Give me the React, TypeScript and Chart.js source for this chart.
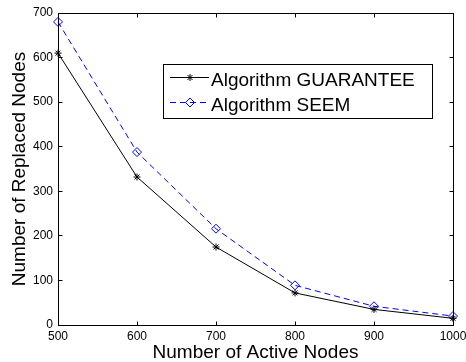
import React, { useEffect, useRef } from 'react';
import { Chart, registerables } from 'chart.js';

Chart.register(...registerables);

const activeNodes = [500, 600, 700, 800, 900, 1000];
const guaranteeValues = [610, 332, 175, 72, 35, 15];
const seemValues = [680, 388, 216, 89, 42, 20];
const seriesLabels = ['Algorithm GUARANTEE', 'Algorithm SEEM'];
const xTitle = 'Number of Active Nodes';
const yTitle = 'Number of Replaced Nodes';

const FONT = 'Arial, "Liberation Sans", Helvetica, sans-serif';
const BLUE = '#0000ff';
const BLACK = '#000000';

const boxPlugin = {
  id: 'matlabBox',
  afterDatasetsDraw(chart: any) {
    const { ctx, chartArea, scales } = chart;
    const px = (v: number) => Math.floor(v) + 0.5;
    const L = px(chartArea.left), R = px(chartArea.right), T = px(chartArea.top), B = px(chartArea.bottom);
    ctx.save();
    ctx.strokeStyle = BLACK;
    ctx.lineWidth = 1;
    ctx.setLineDash([]);
    ctx.strokeRect(L, T, R - L, B - T);
    const tl = 4;
    ctx.beginPath();
    scales.x.ticks.forEach((t: any) => {
      const x = px(scales.x.getPixelForValue(t.value));
      ctx.moveTo(x, B); ctx.lineTo(x, B - tl);
      ctx.moveTo(x, T); ctx.lineTo(x, T + tl);
    });
    scales.y.ticks.forEach((t: any) => {
      const y = px(scales.y.getPixelForValue(t.value));
      ctx.moveTo(L, y); ctx.lineTo(L + tl, y);
      ctx.moveTo(R, y); ctx.lineTo(R - tl, y);
    });
    ctx.stroke();

    // legend box
    const lx = 163.5, ly = 64.5, lw = 269, lh = 54;
    ctx.fillStyle = '#ffffff';
    ctx.fillRect(lx, ly, lw, lh);
    ctx.strokeRect(lx, ly, lw, lh);
    const ds = chart.data.datasets;
    const rows = [77.5, 102.5];
    const baselines = [86, 111];
    ds.forEach((d: any, i: number) => {
      const y = rows[i];
      ctx.strokeStyle = d.borderColor;
      ctx.lineWidth = 1;
      ctx.setLineDash(d.borderDash || []);
      ctx.beginPath();
      ctx.moveTo(170, y); ctx.lineTo(209, y);
      ctx.stroke();
      ctx.setLineDash([]);
      const cx = 190;
      ctx.beginPath();
      if (d.pointStyle === 'star') {
        const r = d.pointRadius;
        ctx.moveTo(cx - r, y); ctx.lineTo(cx + r, y);
        ctx.moveTo(cx, y - r); ctx.lineTo(cx, y + r);
        const k = r * Math.SQRT1_2;
        ctx.moveTo(cx - k, y - k); ctx.lineTo(cx + k, y + k);
        ctx.moveTo(cx - k, y + k); ctx.lineTo(cx + k, y - k);
      } else {
        const r = d.pointRadius;
        ctx.moveTo(cx, y - r); ctx.lineTo(cx + r, y); ctx.lineTo(cx, y + r); ctx.lineTo(cx - r, y); ctx.closePath();
      }
      ctx.stroke();
      ctx.fillStyle = BLACK;
      ctx.font = `19px ${FONT}`;
      ctx.textBaseline = 'alphabetic';
      ctx.textAlign = 'left';
      ctx.fillText(d.label, 211, baselines[i]);
    });
    ctx.restore();
  },
};

export default function App() {
  const ref = useRef<HTMLCanvasElement | null>(null);
  useEffect(() => {
    if (!ref.current) return;
    const chart = new Chart(ref.current, {
      type: 'line',
      data: {
        datasets: [
          {
            label: seriesLabels[0],
            data: activeNodes.map((x, i) => ({ x, y: guaranteeValues[i] })),
            borderColor: BLACK,
            backgroundColor: 'transparent',
            borderWidth: 1,
            pointStyle: 'star',
            pointRadius: 3.5,
            pointBorderColor: BLACK,
            pointBorderWidth: 1,
            tension: 0,
            clip: false,
          } as any,
          {
            label: seriesLabels[1],
            data: activeNodes.map((x, i) => ({ x, y: seemValues[i] })),
            borderColor: BLUE,
            backgroundColor: 'transparent',
            borderWidth: 1,
            borderDash: [6, 4],
            pointStyle: 'rectRot',
            pointRadius: 4.5,
            pointBorderColor: BLUE,
            pointBackgroundColor: 'transparent',
            pointBorderWidth: 1,
            tension: 0,
            clip: false,
          } as any,
        ],
      },
      options: {
        animation: false,
        responsive: false,
        events: [],
        layout: { padding: { top: 13, right: 13, left: 0, bottom: 0 } },
        plugins: { legend: { display: false }, tooltip: { enabled: false } },
        scales: {
          x: {
            type: 'linear',
            min: 500,
            max: 1000,
            grid: { display: false, drawTicks: false, tickLength: 0 },
            border: { display: false },
            ticks: {
              stepSize: 100,
              padding: 4,
              color: BLACK,
              font: { family: FONT, size: 12 },
              maxRotation: 0,
              callback: (v: any) => String(v),
            },
            title: { display: true, text: xTitle, color: BLACK, font: { family: FONT, size: 19, lineHeight: 1 }, padding: { top: 0, bottom: 0 } },
            afterFit(scale: any) {
              scale.height = 37;
              scale.paddingLeft = 0;
              scale.paddingRight = 0;
            },
          },
          y: {
            min: 0,
            max: 700,
            grid: { display: false, drawTicks: false, tickLength: 0 },
            border: { display: false },
            ticks: { stepSize: 100, padding: 5, color: BLACK, font: { family: FONT, size: 12 }, callback: (v: any) => String(v) },
            title: { display: true, text: yTitle, color: BLACK, font: { family: FONT, size: 19, lineHeight: 1 }, padding: { top: 10, bottom: 0 } },
            afterFit(scale: any) {
              scale.width = 58;
              scale.paddingTop = 0;
              scale.paddingBottom = 0;
            },
          },
        },
      },
      plugins: [boxPlugin],
    });
    return () => chart.destroy();
  }, []);
  return (
    <div style={{ position: 'absolute', left: 0, top: 0, width: 466, height: 362, background: '#fff' }}>
      <canvas ref={ref} width={466} height={362} style={{ display: 'block' }} />
    </div>
  );
}
